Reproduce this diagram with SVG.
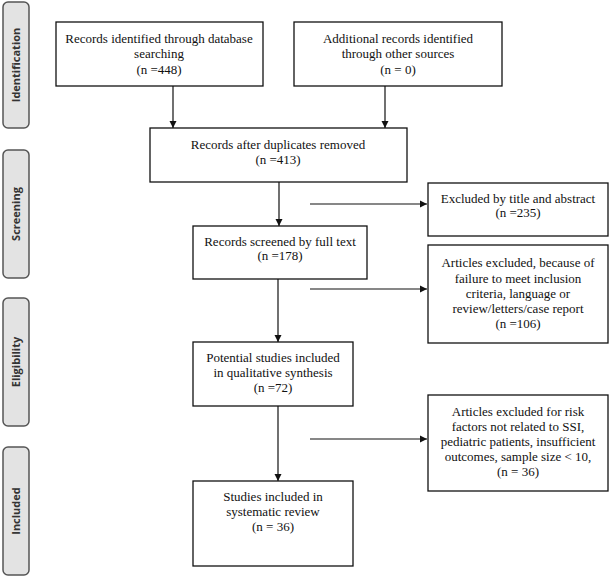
<svg xmlns="http://www.w3.org/2000/svg" width="609" height="577" viewBox="0 0 609 577">
<style>
.box{fill:#fff;stroke:#111;stroke-width:1.3}
.side{fill:#e3e3e3;stroke:#555;stroke-width:1.5}
.t{font-family:"Liberation Serif","Times New Roman",serif;font-size:13px;fill:#111;text-anchor:middle}
.s{font-family:"Open Sans","DejaVu Sans",sans-serif;font-size:11px;font-weight:bold;fill:#333;text-anchor:middle}
.c{stroke:#111;stroke-width:1.2;fill:none;marker-end:url(#ah)}
</style>
<defs>
<marker id="ah" markerWidth="8" markerHeight="8" refX="7" refY="4" orient="auto" markerUnits="userSpaceOnUse">
<path d="M0,0.5 L7,4 L0,7.5 Z" fill="#111"/>
</marker>
</defs>
<g id="phase-identification"><rect class="side" x="3" y="2" width="26" height="126" rx="5"/><text class="s" transform="translate(20,65) rotate(-90)">Identification</text></g>
<g id="phase-screening"><rect class="side" x="3" y="150" width="26" height="128" rx="5"/><text class="s" transform="translate(20,214) rotate(-90)">Screening</text></g>
<g id="phase-eligibility"><rect class="side" x="3" y="298" width="26" height="128" rx="5"/><text class="s" transform="translate(20,362) rotate(-90)">Eligibility</text></g>
<g id="phase-included"><rect class="side" x="3" y="447" width="26" height="128" rx="5"/><text class="s" transform="translate(20,511) rotate(-90)">Included</text></g>

<g id="connectors">
<line class="c" x1="173" y1="86" x2="173" y2="128"/>
<line class="c" x1="385" y1="86" x2="385" y2="128"/>
<line class="c" x1="279" y1="182" x2="279" y2="226"/>
<line class="c" x1="278" y1="279" x2="278" y2="342"/>
<line class="c" x1="278" y1="406" x2="278" y2="481"/>
<line class="c" x1="310" y1="204" x2="427" y2="204"/>
<line class="c" x1="310" y1="289" x2="427" y2="289"/>
<line class="c" x1="310" y1="439" x2="427" y2="439"/>
</g>

<g id="n1"><rect class="box" x="56" y="22" width="207" height="64"/>
<text class="t" x="159" y="43">Records identified through database</text>
<text class="t" x="159" y="58">searching</text>
<text class="t" x="159" y="74">(n =448)</text></g>
<g id="n2"><rect class="box" x="294" y="22" width="208" height="64"/>
<text class="t" x="398" y="43">Additional records identified</text>
<text class="t" x="398" y="58">through other sources</text>
<text class="t" x="398" y="74">(n = 0)</text></g>
<g id="n3"><rect class="box" x="150" y="128" width="257" height="54"/>
<text class="t" x="278" y="149">Records after duplicates removed</text>
<text class="t" x="278" y="164">(n =413)</text></g>
<g id="n4"><rect class="box" x="428" y="183" width="180" height="53"/>
<text class="t" x="518" y="203">Excluded by title and abstract</text>
<text class="t" x="518" y="217">(n =235)</text></g>
<g id="n5"><rect class="box" x="193" y="226" width="174" height="53"/>
<text class="t" x="280" y="246">Records screened by full text</text>
<text class="t" x="280" y="260">(n =178)</text></g>
<g id="n6"><rect class="box" x="428" y="245" width="180" height="98"/>
<text class="t" x="518" y="267">Articles excluded, because of</text>
<text class="t" x="518" y="283">failure to meet inclusion</text>
<text class="t" x="518" y="298">criteria, language or</text>
<text class="t" x="518" y="313">review/letters/case report</text>
<text class="t" x="518" y="328">(n =106)</text></g>
<g id="n7"><rect class="box" x="193" y="342" width="160" height="64"/>
<text class="t" x="273" y="362">Potential studies included</text>
<text class="t" x="273" y="377">in qualitative synthesis</text>
<text class="t" x="273" y="392">(n =72)</text></g>
<g id="n8"><rect class="box" x="428" y="395" width="180" height="96"/>
<text class="t" x="518" y="416">Articles excluded for risk</text>
<text class="t" x="518" y="431">factors not related to SSI,</text>
<text class="t" x="518" y="446">pediatric patients, insufficient</text>
<text class="t" x="518" y="461">outcomes, sample size &lt; 10,</text>
<text class="t" x="518" y="476">(n = 36)</text></g>
<g id="n9"><rect class="box" x="193" y="481" width="160" height="85"/>
<text class="t" x="273" y="501">Studies included in</text>
<text class="t" x="273" y="516">systematic review</text>
<text class="t" x="273" y="531">(n = 36)</text></g>
</svg>
